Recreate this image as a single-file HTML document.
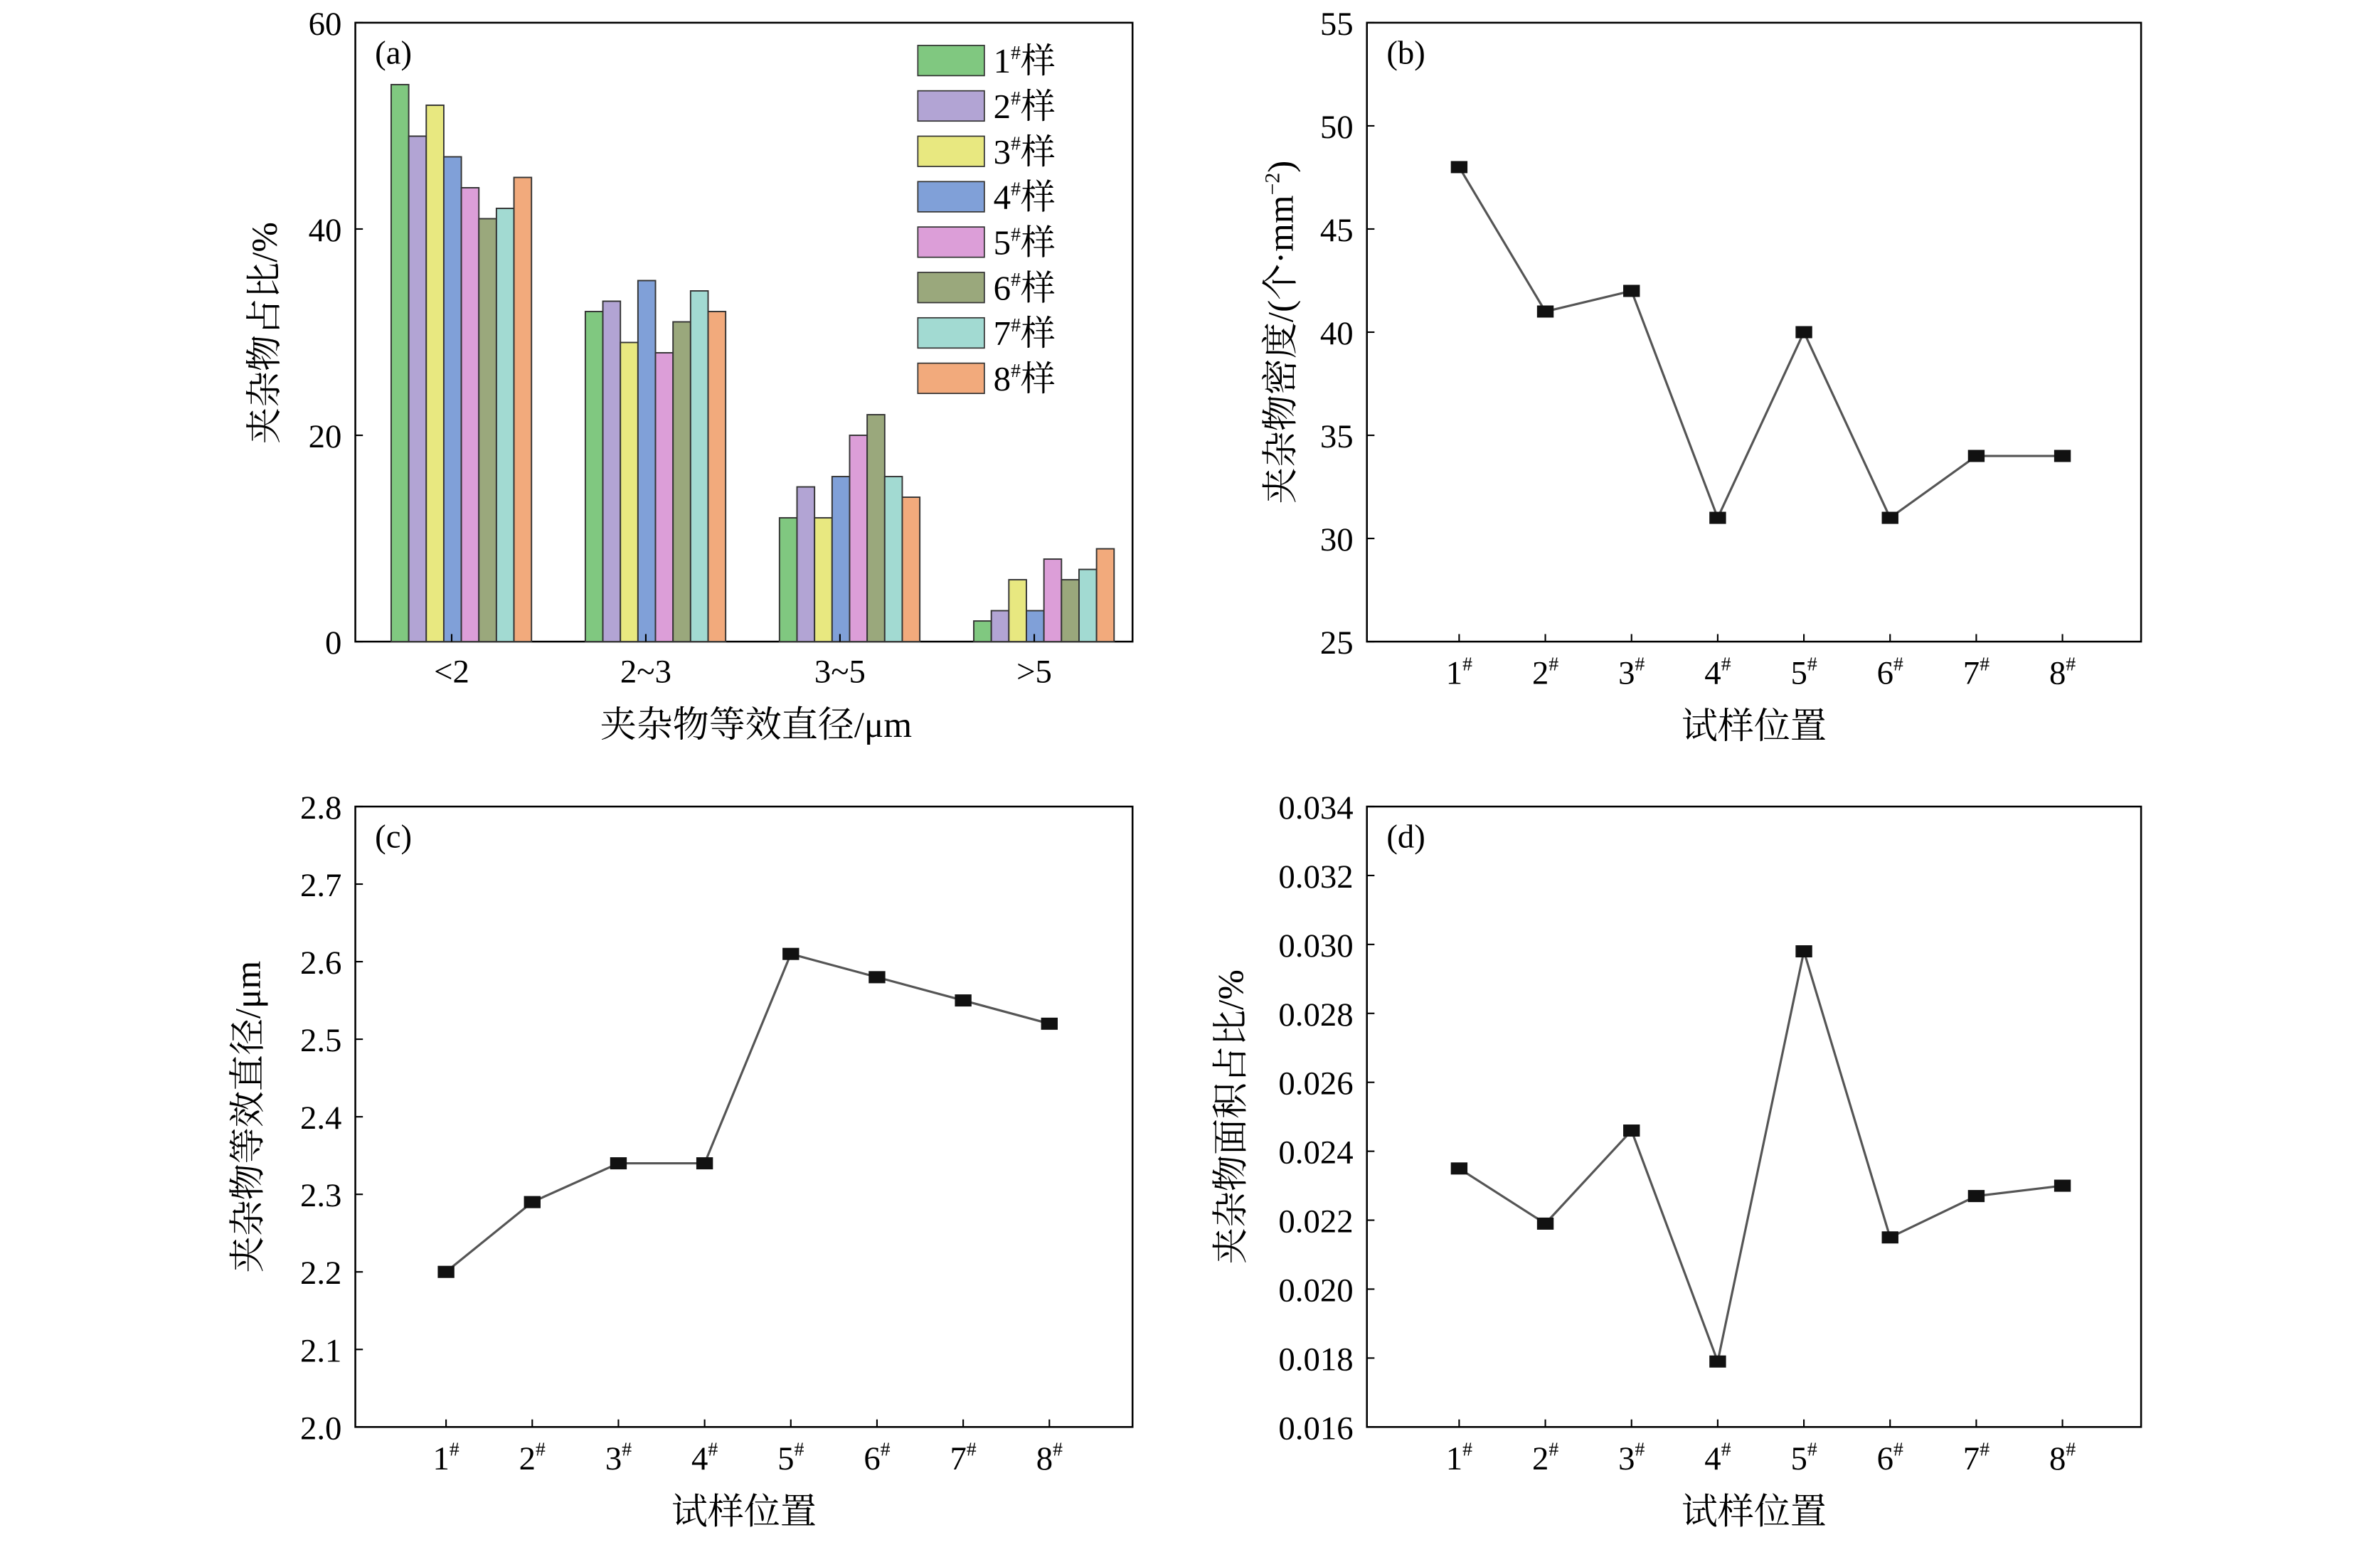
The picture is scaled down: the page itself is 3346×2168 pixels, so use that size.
<!DOCTYPE html>
<html><head><meta charset="utf-8"><style>html,body{margin:0;padding:0;background:#fff}svg{display:block}</style></head>
<body>
<svg id="s" xmlns="http://www.w3.org/2000/svg" width="3346" height="2168" viewBox="0 0 1574 1019" preserveAspectRatio="none" font-family="'Liberation Serif','Noto Serif CJK SC',serif"></svg>
<script>
const s=document.getElementById('s');let h='';
function t(x,y,str,size,anchor,extra){h+=`<text x="${x}" y="${y}" font-size="${size}" text-anchor="${anchor||'middle'}" ${extra||''}>${str}</text>`;}
function box(x0,y0,x1,y1){h+=`<rect x="${x0}" y="${y0}" width="${x1-x0}" height="${y1-y0}" fill="none" stroke="#000" stroke-width="1.2"/>`;}
function yt(x0,x1,y,lab){h+=`<line x1="${x0}" y1="${y}" x2="${x0+5}" y2="${y}" stroke="#000"/>`;t(x0-9,y+8,lab,22,'end');}
box(235,15,749,424);
for(let i=0;i<=3;i++){const y=424-i*20*409/60;yt(235,749,y,i*20);}
const cols=['#80c880','#b2a4d4','#e8e880','#80a0d8','#dc9ed8','#9aa87c','#a2dad2','#f2aa7c'];
const data=[[54,49,52,47,44,41,42,45],[32,33,29,35,28,31,34,32],[12,15,12,16,20,22,16,14],[2,3,6,3,8,6,7,9]];
const starts=[258.7,387.1,515.5,644],labs=['&lt;2','2~3','3~5','&gt;5'];
data.forEach((g,gi)=>{g.forEach((v,i)=>{const x=starts[gi]+i*11.6,y=424-v*409/60;h+=`<rect x="${x}" y="${y}" width="11.6" height="${424-y}" fill="${cols[i]}" stroke="#333" stroke-width="0.9"/>`;});
const c=starts[gi]+40;
h+=`<line x1="${c}" y1="424" x2="${c}" y2="419" stroke="#000"/>`;t(c,451,labs[gi],22);});
t(248,42,'(a)',22,'start');
for(let i=0;i<8;i++){const y=30+i*30;h+=`<rect x="607" y="${y}" width="44" height="20" fill="${cols[i]}" stroke="#333" stroke-width="0.8"/>`;t(657,y+18,`${i+1}<tspan font-size="13" dy="-9">#</tspan><tspan dy="9">样</tspan>`,23,'start');}
t(500,487,'夹杂物等效直径/μm',24);
t(183,220,'夹杂物占比/%',24,'middle','transform="rotate(-90 183 220)"');
function panel(x0,y0,x1,y1,ymin,ymax,step,dec,lab,ylabel,ylx,vals,off){
 box(x0,y0,x1,y1);const n=Math.round((ymax-ymin)/step);
 for(let i=0;i<=n;i++){const v=ymin+i*step,y=y1-(v-ymin)/(ymax-ymin)*(y1-y0);yt(x0,x1,y,v.toFixed(dec));}
 const xs=[];for(let i=0;i<8;i++){const x=x0+off+i*57;xs.push(x);h+=`<line x1="${x}" y1="${y1}" x2="${x}" y2="${y1-5}" stroke="#000"/>`;t(x,y1+28,`${i+1}<tspan font-size="13" dy="-9">#</tspan>`,22);}
 const pts=vals.map((v,i)=>[xs[i],y1-(v-ymin)/(ymax-ymin)*(y1-y0)]);
 h+=`<polyline points="${pts.map(p=>p.join(',')).join(' ')}" fill="none" stroke="#555" stroke-width="1.5"/>`;
 pts.forEach(p=>{h+=`<rect x="${p[0]-5.5}" y="${p[1]-4}" width="11" height="8" fill="#111"/>`;});
 t(x0+13,y0+27,lab,22,'start');
 t((x0+x1)/2,y1+64,'试样位置',24);
 const cy=(y0+y1)/2;t(ylx,cy,ylabel,24,'middle',`transform="rotate(-90 ${ylx} ${cy})"`);
}
panel(904,15,1416,424,25,55,5,0,'(b)','夹杂物密度/(个·mm<tspan font-size="14" dy="-9">−2</tspan><tspan dy="9">)</tspan>',855,[48,41,42,31,40,31,34,34],61);
panel(235,533,749,943,2.0,2.8,0.1,1,'(c)','夹杂物等效直径/μm',172,[2.2,2.29,2.34,2.34,2.61,2.58,2.55,2.52],60);
panel(904,533,1416,943,0.016,0.034,0.002,3,'(d)','夹杂物面积占比/%',822,[.0235,.0219,.0246,.0179,.0298,.0215,.0227,.0230],61);
s.innerHTML=h;
</script>
</body></html>
